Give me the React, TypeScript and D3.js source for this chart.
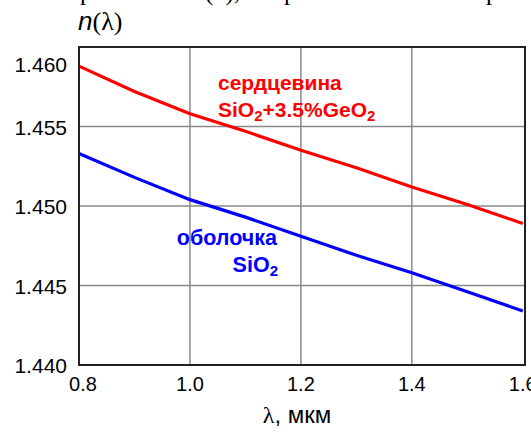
import React from "react";
import * as d3 from "d3";

const lambda = [0.8, 0.9, 1.0, 1.1, 1.2, 1.3, 1.4, 1.5, 1.6];
const coreN = [1.4588, 1.4572, 1.4558, 1.4547, 1.4535, 1.4524, 1.4512, 1.4501, 1.4489];
const cladN = [1.4533, 1.4518, 1.4504, 1.4493, 1.4481, 1.4469, 1.4458, 1.4446, 1.4434];
const xTicks = [0.8, 1.0, 1.2, 1.4, 1.6];
const yTicks = [1.44, 1.445, 1.45, 1.455, 1.46];
const headerFragments = [
  { t: "р", x: 80 },
  { t: "(λ),", x: 205 },
  { t: "р", x: 284 },
  { t: "р", x: 486 },
];

const W = 531;
const H = 435;
const L = 79, R = 525, T = 47, B = 365;

export default function App() {
  const x = d3.scaleLinear().domain([0.8, 1.604]).range([L, R]);
  const y = d3.scaleLinear().domain([1.44, 1.46]).range([B, T]);
  const line = d3
    .line<number>()
    .x((_, i) => x(lambda[i]))
    .y((d) => y(d));
  const sans = "Arial, 'Liberation Sans', sans-serif";
  return (
    <svg
      width={W}
      height={H}
      style={{ position: "absolute", left: 0, top: 0, background: "#fff" }}
      fontFamily={sans}
    >
      <rect x={0} y={0} width={W} height={H} fill="#fff" />
      {headerFragments.map((f, i) => (
        <text key={i} x={f.x} y={0} fontFamily="'Liberation Serif', 'Times New Roman', serif" fontSize={25} fill="#000">
          {f.t}
        </text>
      ))}
      {xTicks.slice(1, 4).map((t) => (
        <line key={"gx" + t} x1={x(t)} x2={x(t)} y1={T} y2={B} stroke="#8a8a8a" strokeWidth={1.5} />
      ))}
      {yTicks.slice(1, 4).map((t) => (
        <line key={"gy" + t} x1={L} x2={R} y1={y(t)} y2={y(t)} stroke="#8a8a8a" strokeWidth={1.5} />
      ))}
      <path d={line(coreN) || ""} fill="none" stroke="#ff0000" strokeWidth={3.2} />
      <path d={line(cladN) || ""} fill="none" stroke="#0000ff" strokeWidth={3.2} />
      <rect x={L} y={T} width={R - L} height={B - T} fill="none" stroke="#222" strokeWidth={2} />
      {yTicks.map((t, i) => (
        <text
          key={"yt" + t}
          x={67}
          y={y(t) + (i === yTicks.length - 1 ? 25 : 8)}
          textAnchor="end"
          fontSize={21}
          fill="#000"
        >
          {d3.format(".3f")(t)}
        </text>
      ))}
      {xTicks.map((t, i) => (
        <text
          key={"xt" + t}
          x={x(t) + (i === 0 ? 4 : 0)}
          y={391}
          textAnchor="middle"
          fontSize={20}
          fill="#000"
        >
          {d3.format(".1f")(t)}
        </text>
      ))}
      <text x={78} y={30} fontSize={26} fill="#000">
        <tspan fontStyle="italic">n</tspan>
        <tspan fontFamily="'Liberation Serif', serif">(λ)</tspan>
      </text>
      <text x={297} y={423} textAnchor="middle" fontSize={24} fill="#000">
        <tspan fontFamily="'Liberation Serif', serif">λ</tspan>, мкм
      </text>
      <text x={218} y={90} fontSize={21} fontWeight="bold" fill="#ff0000">
        сердцевина
      </text>
      <text x={218} y={117} fontSize={21} fontWeight="bold" fill="#ff0000">
        SiO<tspan fontSize={15} dy={4}>2</tspan>
        <tspan dy={-4}>+3.5%GeO</tspan>
        <tspan fontSize={15} dy={4}>2</tspan>
      </text>
      <text x={277} y={245} textAnchor="end" fontSize={21.5} fontWeight="bold" fill="#0000ff">
        оболочка
      </text>
      <text x={278} y={272} textAnchor="end" fontSize={21.5} fontWeight="bold" fill="#0000ff">
        SiO<tspan fontSize={15} dy={4}>2</tspan>
      </text>
    </svg>
  );
}
